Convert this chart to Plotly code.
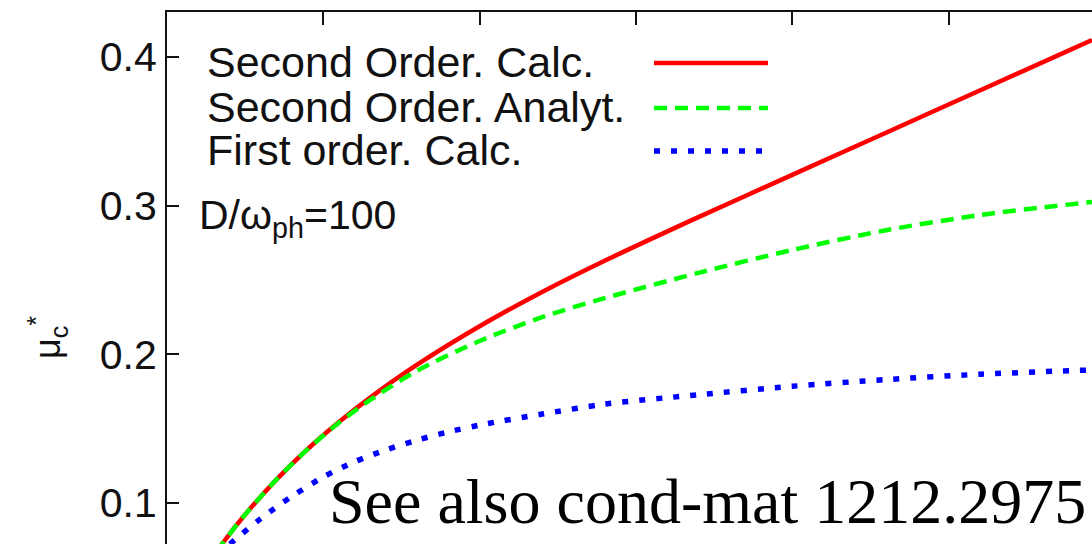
import plotly.graph_objects as go

# ---- data ----
x_red = [0.12, 0.176, 0.25, 0.35, 0.45, 0.55, 0.65, 0.8, 1.0, 1.2, 1.4, 1.7, 2.0, 2.3, 2.6, 2.959]
y_red = [0.0555, 0.0724, 0.0922, 0.1157, 0.1363, 0.1545, 0.1709, 0.1930, 0.2189, 0.2419, 0.2629,
         0.2923, 0.3207, 0.3491, 0.3775, 0.4114]

x_green = [0.12, 0.176, 0.25, 0.35, 0.45, 0.55, 0.65, 0.8, 1.0, 1.2, 1.4, 1.7, 2.0, 2.3, 2.6, 2.959]
y_green = [0.0555, 0.0724, 0.0922, 0.1157, 0.1362, 0.1540, 0.1693, 0.1890, 0.2090, 0.2250, 0.2378,
           0.2548, 0.2702, 0.2835, 0.2937, 0.3025]

x_blue = [0.16, 0.2, 0.3, 0.4, 0.5, 0.6, 0.7, 0.8, 0.9, 1.0, 1.2, 1.4, 1.7, 2.0, 2.3, 2.6, 2.959]
y_blue = [0.0650, 0.0722, 0.0895, 0.1045, 0.1175, 0.1277, 0.1357, 0.1423, 0.1478, 0.1524, 0.1598,
          0.1665, 0.1728, 0.1785, 0.1830, 0.1866, 0.1895]

series_names = ["Second Order. Calc.", "Second Order. Analyt.", "First order. Calc."]
y_ticks = [0.1, 0.2, 0.3, 0.4]
y_ticktext = ["0.1", "0.2", "0.3", "0.4"]

RED, GREEN, BLUE = "#ff0000", "#00ff00", "#0000ff"
DASH_G = "13px,8px"
DASH_B = "6px,11px"
SANS = "Liberation Sans"

fig = go.Figure()
fig.add_trace(go.Scatter(x=x_red, y=y_red, mode="lines", name=series_names[0],
                         line=dict(color=RED, width=4.5, shape="spline", smoothing=0.8),
                         showlegend=False))
fig.add_trace(go.Scatter(x=x_green, y=y_green, mode="lines", name=series_names[1],
                         line=dict(color=GREEN, width=4.5, dash=DASH_G, shape="spline",
                                   smoothing=0.8), showlegend=False))
fig.add_trace(go.Scatter(x=x_blue, y=y_blue, mode="lines", name=series_names[2],
                         line=dict(color=BLUE, width=5.5, dash=DASH_B, shape="spline",
                                   smoothing=0.8), showlegend=False))

W, H = 1092, 544
L, T = 167, 12
PW, PH = W - L, H - T


def px(xp):
    return (xp - L) / PW


def py(yp):
    return (H - yp) / PH


annotations = []
legend_rows = [(62, RED, None, 4.5), (107, GREEN, DASH_G, 4.5), (150, BLUE, DASH_B, 5.5)]
shapes = []
for name, (yy, col, dash, w) in zip(series_names, legend_rows):
    annotations.append(dict(text=name, x=px(205), y=py(yy), xref="paper", yref="paper",
                            xanchor="left", yanchor="middle", showarrow=False,
                            font=dict(family=SANS, size=43, color="#111111")))
    ln = dict(color=col, width=w)
    if dash:
        ln["dash"] = dash
    shapes.append(dict(type="line", xref="paper", yref="paper", x0=px(654), x1=px(768),
                       y0=py(yy + 1), y1=py(yy + 1), line=ln))

annotations.append(dict(text="D/ω<sub>ph</sub>=100", x=px(197), y=py(218), xref="paper",
                        yref="paper", xanchor="left", yanchor="middle", showarrow=False,
                        font=dict(family=SANS, size=41, color="#111111")))
annotations.append(dict(text="μ<sub>c</sub><sup>*</sup>", x=px(48), y=py(338), xref="paper",
                        yref="paper", xanchor="center", yanchor="middle", showarrow=False,
                        textangle=-90, font=dict(family=SANS, size=36, color="#111111")))
annotations.append(dict(text="See also cond-mat 1212.2975", x=px(1088), y=py(501), xref="paper",
                        yref="paper", xanchor="right", yanchor="middle", showarrow=False,
                        font=dict(family="Liberation Serif", size=64, color="#000000")))

fig.update_layout(
    width=W, height=H,
    margin=dict(l=L, r=0, t=T, b=0, pad=0),
    paper_bgcolor="white", plot_bgcolor="white",
    annotations=annotations, shapes=shapes,
    xaxis=dict(range=[0, 2.959], side="top", showline=True, linecolor="#111111", linewidth=2,
               ticks="inside", ticklen=13, tickwidth=2, tickcolor="#111111",
               tick0=0, dtick=0.5, showticklabels=False, showgrid=False, zeroline=False),
    yaxis=dict(range=[0.0724, 0.4303], showline=True, linecolor="#111111", linewidth=2,
               ticks="inside", ticklen=12, tickwidth=2, tickcolor="#111111",
               tickvals=y_ticks, ticktext=y_ticktext, ticklabelstandoff=0,
               tickfont=dict(family=SANS, size=41, color="#111111"),
               showgrid=False, zeroline=False),
)

fig.write_html("out.html")
